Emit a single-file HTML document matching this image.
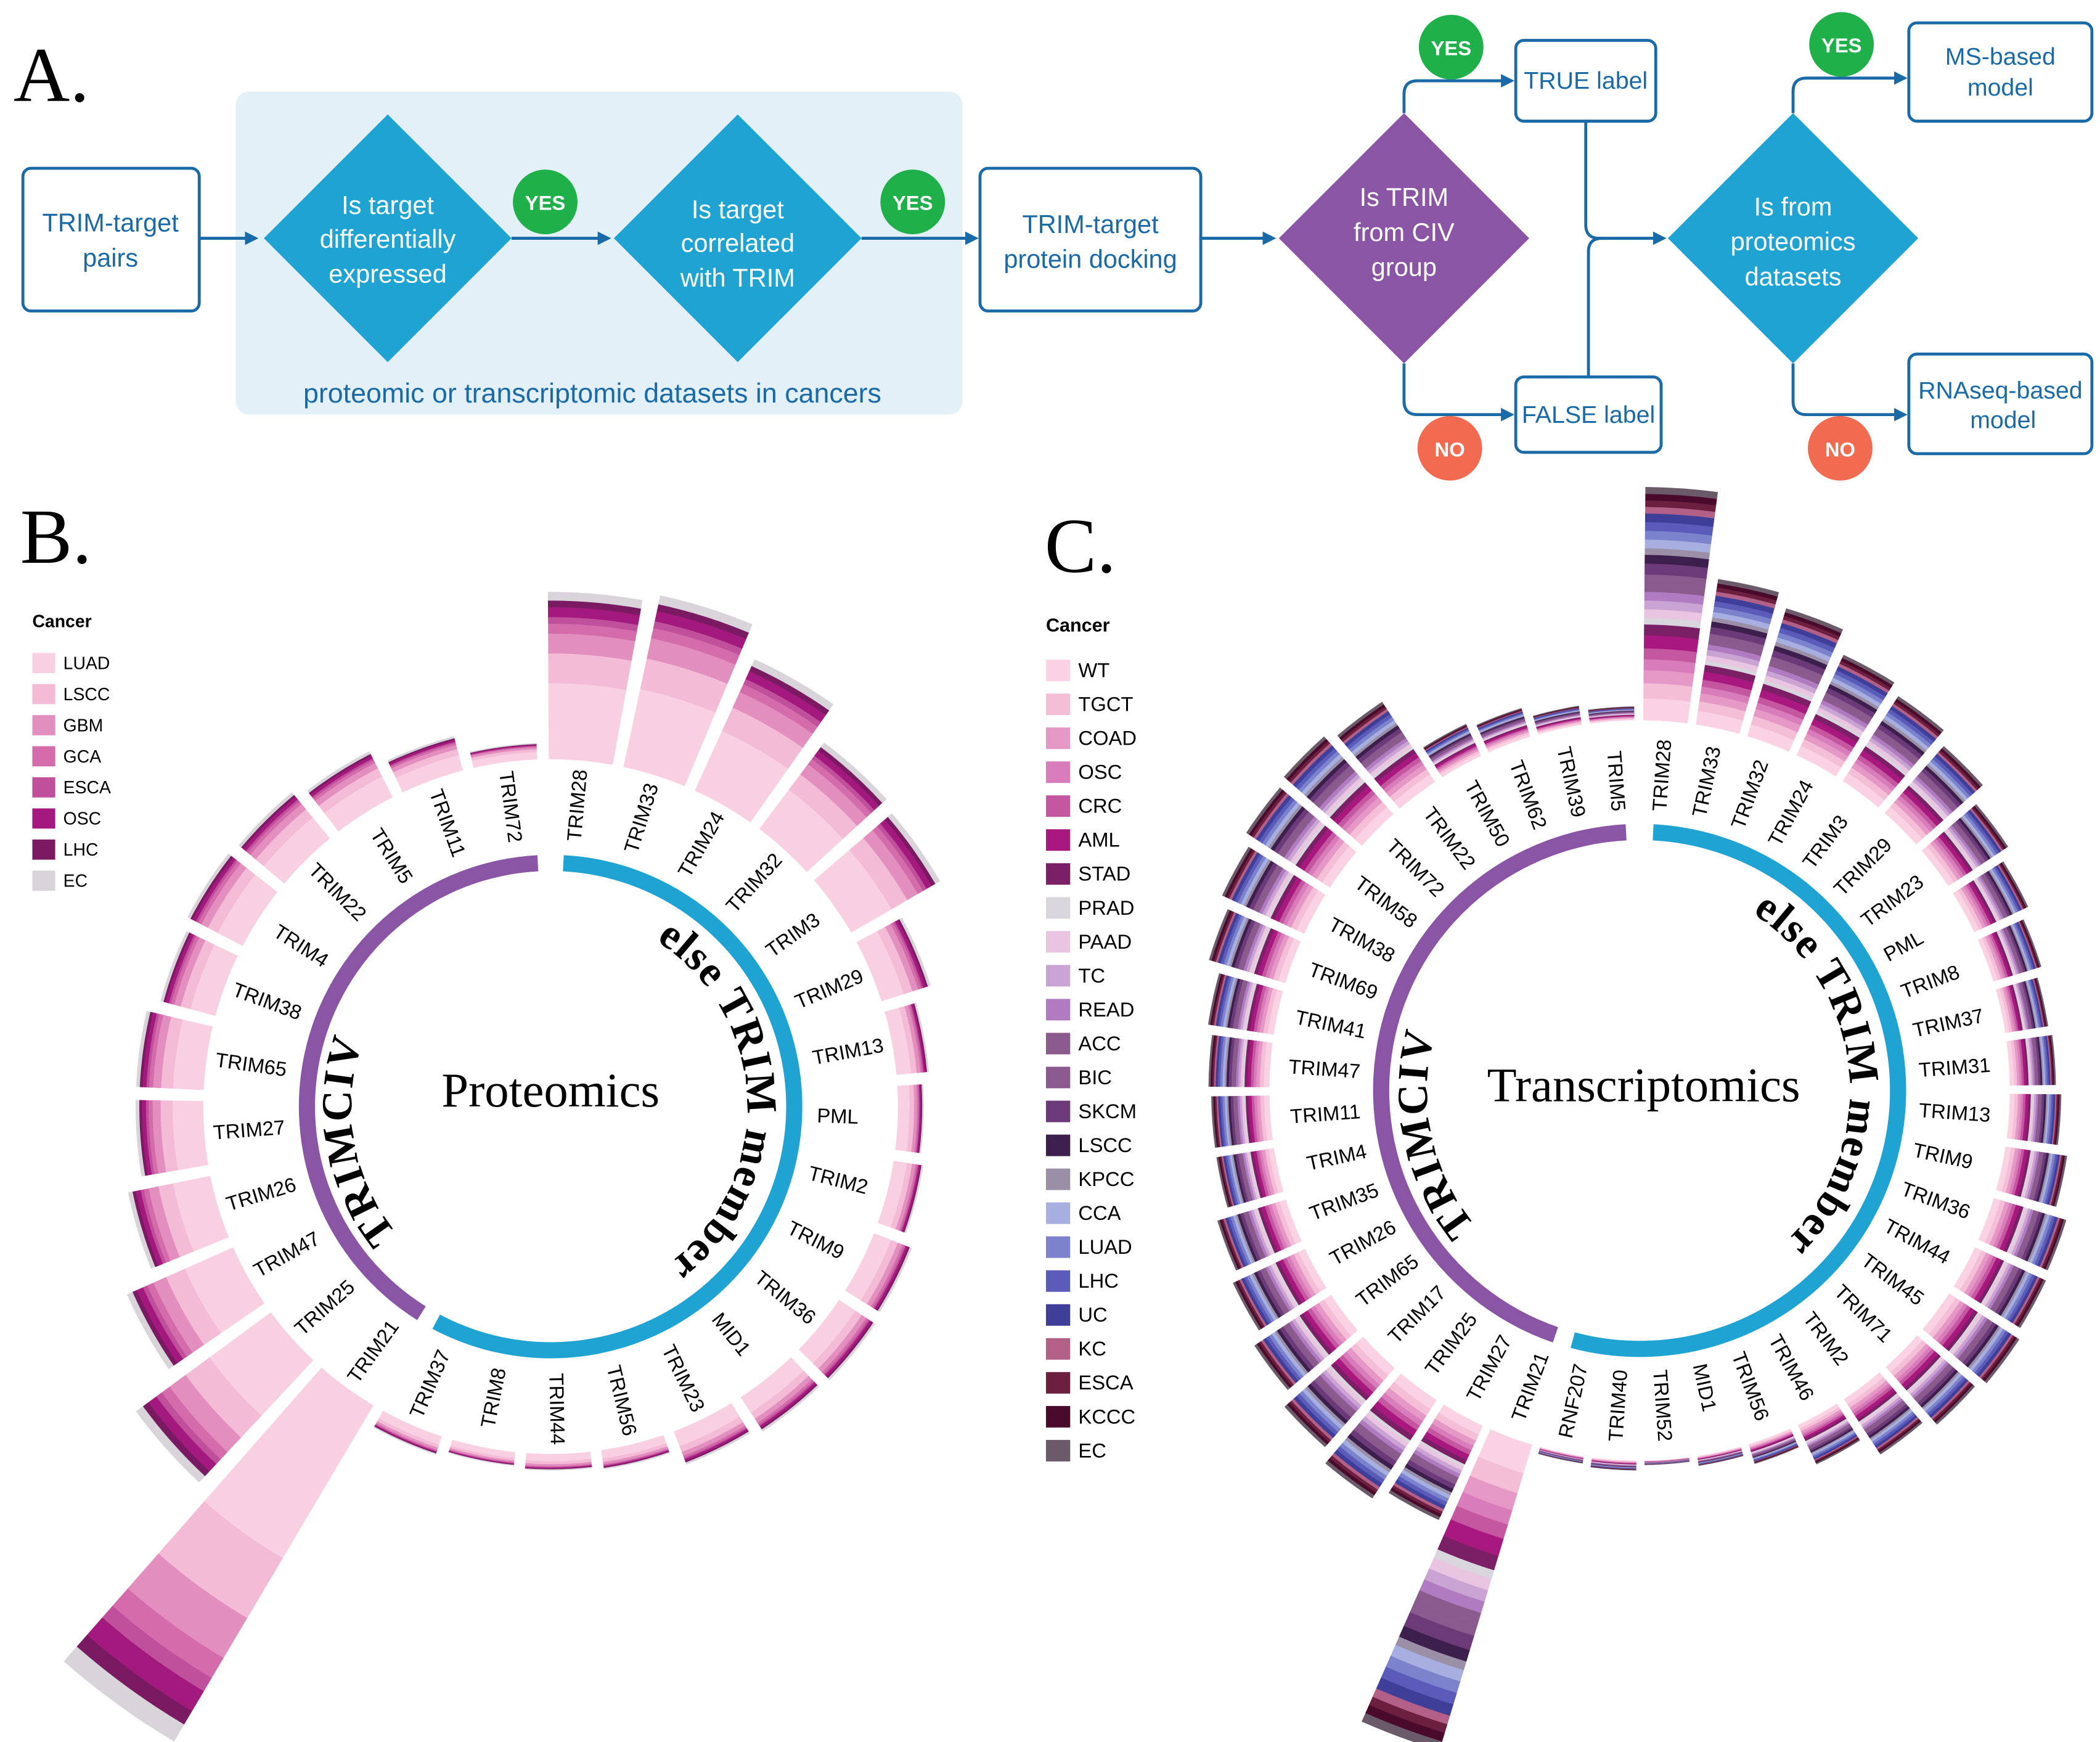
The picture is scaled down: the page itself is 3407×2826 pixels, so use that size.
<!DOCTYPE html>
<html><head><meta charset="utf-8"><style>
html,body{margin:0;padding:0;background:#fff}
svg{display:block}
</style></head><body>
<svg id="s" width="3407" height="2826" viewBox="0 0 1560 1294" xmlns="http://www.w3.org/2000/svg" font-family="Liberation Sans, sans-serif">
<defs>
<marker id="ar" markerWidth="10" markerHeight="10" refX="8" refY="5" orient="auto" markerUnits="userSpaceOnUse"><path d="M0,0 L10,5 L0,10 Z" fill="#1a6aa8"/></marker>
</defs>
<rect width="1560" height="1294" fill="#fff"/>
<text x="10" y="75" font-family="Liberation Serif, serif" font-size="58">A.</text>
<rect x="175" y="68" width="540" height="240" rx="10" fill="#e4f0f8"/>
<text x="440" y="299" font-size="20.5" fill="#1a6aa8" text-anchor="middle">proteomic or transcriptomic datasets in cancers</text>
<g fill="none" stroke="#1a6aa8" stroke-width="2.2">
<rect x="17" y="125" width="131" height="106" rx="6"/>
<rect x="728" y="125" width="164" height="106" rx="6"/>
<rect x="1126" y="30" width="104" height="60" rx="6"/>
<rect x="1126" y="280" width="108" height="56" rx="6"/>
<rect x="1418" y="17" width="136" height="73" rx="6"/>
<rect x="1418" y="263" width="136" height="74" rx="6"/>
<path d="M148,177 H190" marker-end="url(#ar)"/>
<path d="M380,177 H452" marker-end="url(#ar)"/>
<path d="M640,177 H725" marker-end="url(#ar)"/>
<path d="M892,177 H946" marker-end="url(#ar)"/>
<path d="M1043,84 V70 Q1043,60 1053,60 H1123" marker-end="url(#ar)"/>
<path d="M1043,270 V298 Q1043,308 1053,308 H1123" marker-end="url(#ar)"/>
<path d="M1178,90 V167 Q1178,177 1188,177 H1236" marker-end="url(#ar)"/>
<path d="M1180,280 V187 Q1180,177 1190,177"/>
<path d="M1332,84 V68 Q1332,58 1342,58 H1415" marker-end="url(#ar)"/>
<path d="M1332,270 V298 Q1332,308 1342,308 H1415" marker-end="url(#ar)"/>
</g>
<polygon points="288,85 380,177 288,269 196,177" fill="#1fa3d3"/>
<polygon points="548,85 640,177 548,269 456,177" fill="#1fa3d3"/>
<polygon points="1043,84 1136,177 1043,270 950,177" fill="#8b55a6"/>
<polygon points="1332,84 1425,177 1332,270 1239,177" fill="#1fa3d3"/>
<g font-size="19" text-anchor="middle" fill="#1a6aa8">
<text x="82" y="172">TRIM-target</text><text x="82" y="198">pairs</text>
<text x="810" y="173">TRIM-target</text><text x="810" y="199">protein docking</text>
<text x="1178" y="66" font-size="18">TRUE label</text>
<text x="1180" y="314" font-size="18">FALSE label</text>
<text x="1486" y="48" font-size="18">MS-based</text><text x="1486" y="71" font-size="18">model</text>
<text x="1486" y="296" font-size="18">RNAseq-based</text><text x="1488" y="318" font-size="18">model</text>
</g>
<g font-size="19" text-anchor="middle" fill="#fff">
<text x="288" y="159">Is target</text><text x="288" y="184">differentially</text><text x="288" y="210">expressed</text>
<text x="548" y="162">Is target</text><text x="548" y="187">correlated</text><text x="548" y="213">with TRIM</text>
<text x="1043" y="153">Is TRIM</text><text x="1043" y="179">from CIV</text><text x="1043" y="205">group</text>
<text x="1332" y="160">Is from</text><text x="1332" y="186">proteomics</text><text x="1332" y="212">datasets</text>
</g>
<g font-size="15" font-weight="bold" text-anchor="middle" fill="#fff">
<circle cx="405" cy="150" r="24" fill="#1fb04a"/><text x="405" y="156">YES</text>
<circle cx="678" cy="150" r="24" fill="#1fb04a"/><text x="678" y="156">YES</text>
<circle cx="1078" cy="35" r="24" fill="#1fb04a"/><text x="1078" y="41">YES</text>
<circle cx="1368" cy="33" r="24" fill="#1fb04a"/><text x="1368" y="39">YES</text>
<circle cx="1077" cy="333" r="24" fill="#f26a4f"/><text x="1077" y="339">NO</text>
<circle cx="1367" cy="333" r="24" fill="#f26a4f"/><text x="1367" y="339">NO</text>
</g>
<text x="15" y="418" font-family="Liberation Serif, serif" font-size="58">B.</text>
<text x="776" y="425" font-family="Liberation Serif, serif" font-size="58">C.</text>
<text x="24" y="466" font-size="13" font-weight="bold">Cancer</text>
<text x="777" y="469" font-size="14" font-weight="bold">Cancer</text>
<g id="legB"></g><g id="legC"></g>
<g id="plotB"></g><g id="plotC"></g>
<text x="409" y="822" font-family="Liberation Serif, serif" font-size="36" text-anchor="middle">Proteomics</text>
<text x="1221" y="818" font-family="Liberation Serif, serif" font-size="36" text-anchor="middle">Transcriptomics</text>
<path id="tpB" d="M409,970 A148,148 0 1 1 409,674 A148,148 0 1 1 409,970" fill="none"/>
<path id="tpB2" d="M409,676 A146,146 0 1 1 409,968 A146,146 0 1 1 409,676" fill="none"/>
<path id="tpC" d="M1218,968 A158,158 0 1 1 1218,652 A158,158 0 1 1 1218,968" fill="none"/>
<path id="tpC2" d="M1218,654 A156,156 0 1 1 1218,966 A156,156 0 1 1 1218,654" fill="none"/>
<g font-family="Liberation Serif, serif" font-weight="bold" font-size="32" letter-spacing="1">
<text><textPath href="#tpB" startOffset="14%">TRIMCIV</textPath></text>
<text><textPath href="#tpB2" startOffset="9%">else TRIM member</textPath></text>
<text><textPath href="#tpC" startOffset="14%">TRIMCIV</textPath></text>
<text><textPath href="#tpC2" startOffset="9%">else TRIM member</textPath></text>
</g>
</svg>
<script>
var NS="http://www.w3.org/2000/svg";
function el(p,t,a,txt){var e=document.createElementNS(NS,t);for(var k in a)e.setAttribute(k,a[k]);if(txt!=null)e.textContent=txt;p.appendChild(e);return e;}
function pt(cx,cy,r,a){var d=a*Math.PI/180;return [cx+r*Math.sin(d),cy-r*Math.cos(d)];}
function sec(cx,cy,r0,r1,a0,a1){var p1=pt(cx,cy,r0,a0),p2=pt(cx,cy,r1,a0),p3=pt(cx,cy,r1,a1),p4=pt(cx,cy,r0,a1);var l=(a1-a0)>180?1:0;
return "M"+p1+" L"+p2+" A"+r1+","+r1+" 0 "+l+" 1 "+p3+" L"+p4+" A"+r0+","+r0+" 0 "+l+" 0 "+p1+"Z";}
function plot(g,cx,cy,rr,rw,blue,purple,labels,bar0,outs,start,step,bw,cols,wts,lr,fs){
  el(g,"path",{d:sec(cx,cy,rr-rw/2,rr+rw/2,blue[0],blue[1]),fill:"#1fa3d3"});
  el(g,"path",{d:sec(cx,cy,rr-rw/2,rr+rw/2,purple[0],purple[1]),fill:"#8b55a6"});
  var tw=wts.reduce(function(a,b){return a+b},0);
  for(var i=0;i<labels.length;i++){
    var a=start+i*step;
    var r=bar0,len=outs[i]-bar0;
    for(var j=0;j<cols.length;j++){var dl=len*wts[j]/tw;
      el(g,"path",{d:sec(cx,cy,r,r+dl+0.3,a-bw/2,a+bw/2),fill:cols[j]});r+=dl;}
    var p=pt(cx,cy,lr,a),rot,anc;
    if(a<=180){rot=a-90;anc="start";}else{rot=a+90;anc="end";}
    el(g,"text",{x:p[0],y:p[1],transform:"rotate("+rot+" "+p[0]+" "+p[1]+")","text-anchor":anc,"dominant-baseline":"central","font-size":fs},labels[i]);
  }
}
var cB=["#f9d0e1","#f3bbd5","#e28fc0","#d46cac","#c0509b","#a3197d","#7a1a63","#d8d4da"];
var nB=["LUAD","LSCC","GBM","GCA","ESCA","OSC","LHC","EC"];
var cC=["#fad2e3","#f5bed7","#e597c6","#d97cbb","#c556a0","#a8187f","#7b1f66","#d9d5dd","#e9c5e2","#c9a4d3","#b07bc0","#8c5b8e","#8a5a8e","#6c3a78","#3d1f4e","#9b8fa8","#a6afe0","#7c83cc","#5b5cba","#3f3f9a","#b26088","#6d1f3f","#4a0a2c","#6a5a6a"];
var nC=["WT","TGCT","COAD","OSC","CRC","AML","STAD","PRAD","PAAD","TC","READ","ACC","BIC","SKCM","LSCC","KPCC","CCA","LUAD","LHC","UC","KC","ESCA","KCCC","EC"];
var lb=document.getElementById("legB"),lc=document.getElementById("legC");
for(var i=0;i<nB.length;i++){var y=485+23.1*i;el(lb,"rect",{x:24,y:y,width:17,height:15,fill:cB[i]});el(lb,"text",{x:47,y:y+12,"font-size":13},nB[i]);}
for(var i=0;i<nC.length;i++){var y=490+25.2*i;el(lc,"rect",{x:777,y:y,width:18,height:16,fill:cC[i]});el(lc,"text",{x:801,y:y+13,"font-size":15},nC[i]);}
var LB=["TRIM28","TRIM33","TRIM24","TRIM32","TRIM3","TRIM29","TRIM13","PML","TRIM2","TRIM9","TRIM36","MID1","TRIM23","TRIM56","TRIM44","TRIM8","TRIM37","TRIM21","TRIM25","TRIM47","TRIM26","TRIM27","TRIM65","TRIM38","TRIM4","TRIM22","TRIM5","TRIM11","TRIM72"];
var OB=[382,388,365,338,334,296,282,277,280,288,290,288,284,272,270,268,272,548,382,344,320,308,308,300,304,302,296,284,270];
plot(document.getElementById("plotB"),409,822,181,12,[3,208],[212,357],LB,258,OB,5,12.41,10.6,cB,[46,18,12,6,4,6,4,5],198,15);
var LC=["TRIM28","TRIM33","TRIM32","TRIM24","TRIM3","TRIM29","TRIM23","PML","TRIM8","TRIM37","TRIM31","TRIM13","TRIM9","TRIM36","TRIM44","TRIM45","TRIM71","TRIM2","TRIM46","TRIM56","MID1","TRIM52","TRIM40","RNF207","TRIM21","TRIM27","TRIM25","TRIM17","TRIM65","TRIM26","TRIM35","TRIM4","TRIM11","TRIM47","TRIM41","TRIM69","TRIM38","TRIM58","TRIM72","TRIM22","TRIM50","TRIM62","TRIM39","TRIM5"];
var OC=[448,384,374,357,350,341,328,319,312,307,309,313,321,331,333,337,332,324,307,290,282,278,282,280,512,352,362,353,343,334,328,318,318,320,324,334,342,349,352,346,301,297,289,285];
plot(document.getElementById("plotC"),1218,810,192,12,[3,195],[199,357],LC,275,OC,4,8.18,6.9,cC,[10,7,6,5,5,6,5,3,4,4,4,4,4,5,4,3,4,4,4,4,3,3,3,3],208,15);
</script>
</body></html>
